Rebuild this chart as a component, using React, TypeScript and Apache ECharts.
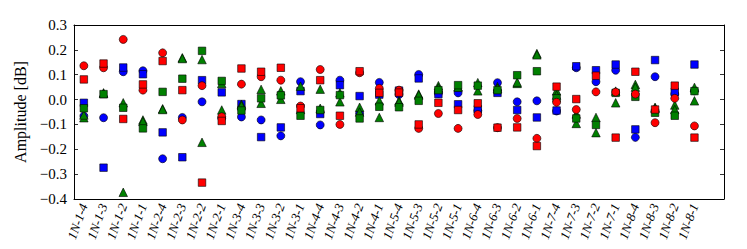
import React, { useEffect, useRef } from "react";
import * as echarts from "echarts";

const categories = ["1N-1-4","1N-1-3","1N-1-2","1N-1-1","1N-2-4","1N-2-3","1N-2-2","1N-2-1","1N-3-4","1N-3-3","1N-3-2","1N-3-1","1N-4-4","1N-4-3","1N-4-2","1N-4-1","1N-5-4","1N-5-3","1N-5-2","1N-5-1","1N-6-4","1N-6-3","1N-6-2","1N-6-1","1N-7-4","1N-7-3","1N-7-2","1N-7-1","1N-8-4","1N-8-3","1N-8-2","1N-8-1"];

const redCircle = [0.136,0.128,0.242,0.038,0.188,-0.082,0.056,-0.069,0.062,0.092,0.078,-0.026,0.121,-0.100,0.108,0.045,0.038,-0.116,-0.056,-0.116,-0.060,-0.113,-0.076,-0.156,-0.011,-0.040,0.031,0.030,0.022,-0.093,0.005,-0.106];
const redSquare = [0.081,0.145,-0.078,0.061,0.155,0.038,-0.334,-0.086,0.125,0.112,0.128,-0.035,0.078,-0.065,0.114,0.027,0.028,-0.100,-0.013,-0.042,-0.015,-0.113,-0.112,-0.187,0.052,0.002,0.096,-0.153,0.112,-0.040,0.056,-0.153];
const blueCircle = [-0.066,-0.073,0.112,0.116,-0.238,-0.072,-0.009,-0.075,-0.070,-0.082,-0.146,0.072,-0.102,0.078,-0.055,0.069,0.020,0.101,0.025,0.027,-0.045,0.068,-0.009,-0.005,-0.046,0.128,0.072,0.118,-0.152,0.092,0.022,0.035];
const blueSquare = [-0.013,-0.274,0.129,0.102,-0.132,-0.232,0.078,0.029,-0.018,-0.151,-0.112,0.034,-0.058,0.058,0.014,0.020,0.036,0.085,0.022,-0.019,-0.039,0.027,-0.042,-0.072,-0.044,0.134,0.118,0.141,-0.120,0.159,0.031,0.141];
const greenTriA = [-0.073,0.027,-0.013,-0.082,-0.037,0.168,0.161,0.065,-0.019,0.041,0.035,0.054,0.042,0.027,-0.031,-0.005,-0.005,0.022,0.056,0.052,0.068,0.052,0.065,0.185,0.035,-0.058,-0.072,0.034,0.061,-0.031,-0.022,0.049];
const greenTriB = [-0.062,0.024,-0.373,-0.088,-0.040,0.165,-0.172,-0.042,-0.025,-0.015,0.001,-0.040,-0.035,-0.009,-0.050,-0.072,-0.010,0.018,0.047,0.050,0.035,0.045,0.070,0.180,0.018,-0.096,-0.133,-0.013,0.050,-0.035,-0.040,-0.005];
const greenSquare = [-0.035,0.022,-0.033,-0.116,0.031,0.084,0.196,0.075,-0.044,0.005,0.017,-0.065,-0.042,0.018,-0.076,-0.029,-0.031,-0.005,0.038,0.058,0.056,0.038,0.098,0.114,0.005,-0.076,-0.102,0.027,0.011,-0.053,-0.065,0.034];

const yTickMin = -0.4;
const yTickMax = 0.3;
const yTickStep = 0.1;

const SERIF = "'Liberation Serif', 'DejaVu Serif', serif";

export default function App() {
  const ref = useRef<HTMLDivElement>(null);
  useEffect(() => {
    document.body.style.margin = "0";
    if (!ref.current) return;
    const chart = echarts.init(ref.current, undefined, { renderer: "svg" });
    const padded = [...categories, ""];
    const n = categories.length;
    const fmtY = (v: number) => {
      const s = Math.abs(v) < 1e-9 ? "0.0" : v.toFixed(1);
      return s.replace("-", "\u2212");
    };
    const mk = (name: string, data: number[], symbol: string, color: string, size: number, z: number) => ({
      name,
      type: "scatter",
      data,
      symbol,
      symbolSize: size,
      z,
      itemStyle: { color, borderColor: "#000", borderWidth: 0.6, opacity: 1 },
      emphasis: { disabled: true },
    });
    const xBase = (pos: "bottom" | "top", labels: boolean) => ({
      type: "category",
      data: padded,
      position: pos,
      boundaryGap: true,
      axisLine: { onZero: false, lineStyle: { color: "#000", width: 1 } },
      axisTick: {
        inside: true,
        alignWithLabel: true,
        length: 4,
        interval: (i: number) => i < n,
        lineStyle: { color: "#000", width: 0.8 },
      },
      axisLabel: labels
        ? {
            show: true,
            interval: 0,
            rotate: 70,
            margin: 5,
            fontSize: 13,
            fontStyle: "italic",
            fontFamily: SERIF,
            color: "#000",
          }
        : { show: false },
      splitLine: { show: false },
    });
    const yBase = (pos: "left" | "right", labels: boolean) => ({
      type: "value",
      position: pos,
      min: yTickMin,
      max: yTickMax,
      interval: yTickStep,
      axisLine: { show: true, onZero: false, lineStyle: { color: "#000", width: 1 } },
      axisTick: { show: true, inside: true, length: 4, lineStyle: { color: "#000", width: 0.8 } },
      axisLabel: labels
        ? { show: true, formatter: fmtY, fontSize: 15, fontFamily: SERIF, color: "#000", margin: 7 }
        : { show: false },
      splitLine: { show: false },
      ...(labels
        ? {
            name: "Amplitude [dB]",
            nameLocation: "middle",
            nameGap: 44,
            nameTextStyle: { fontSize: 16, fontFamily: SERIF, color: "#000" },
          }
        : {}),
    });
    chart.setOption({
      animation: false,
      grid: { left: 74, right: 23, top: 25, bottom: 50, containLabel: false },
      xAxis: [xBase("bottom", true), xBase("top", false)],
      yAxis: [yBase("left", true), yBase("right", false)],
      series: [
        mk("blueCircle", blueCircle, "circle", "#0000ff", 8, 2),
        mk("blueSquare", blueSquare, "rect", "#0000ff", 7.5, 3),
        mk("greenTriA", greenTriA, "triangle", "#008000", 8.5, 4),
        mk("greenTriB", greenTriB, "triangle", "#008000", 8.5, 5),
        mk("greenSquare", greenSquare, "rect", "#008000", 7.5, 6),
        mk("redCircle", redCircle, "circle", "#ff0000", 8, 7),
        mk("redSquare", redSquare, "rect", "#ff0000", 7.5, 8),
      ],
    });
    return () => chart.dispose();
  }, []);
  return <div ref={ref} style={{ width: 747, height: 249, position: "absolute", left: 0, top: 0 }} />;
}
